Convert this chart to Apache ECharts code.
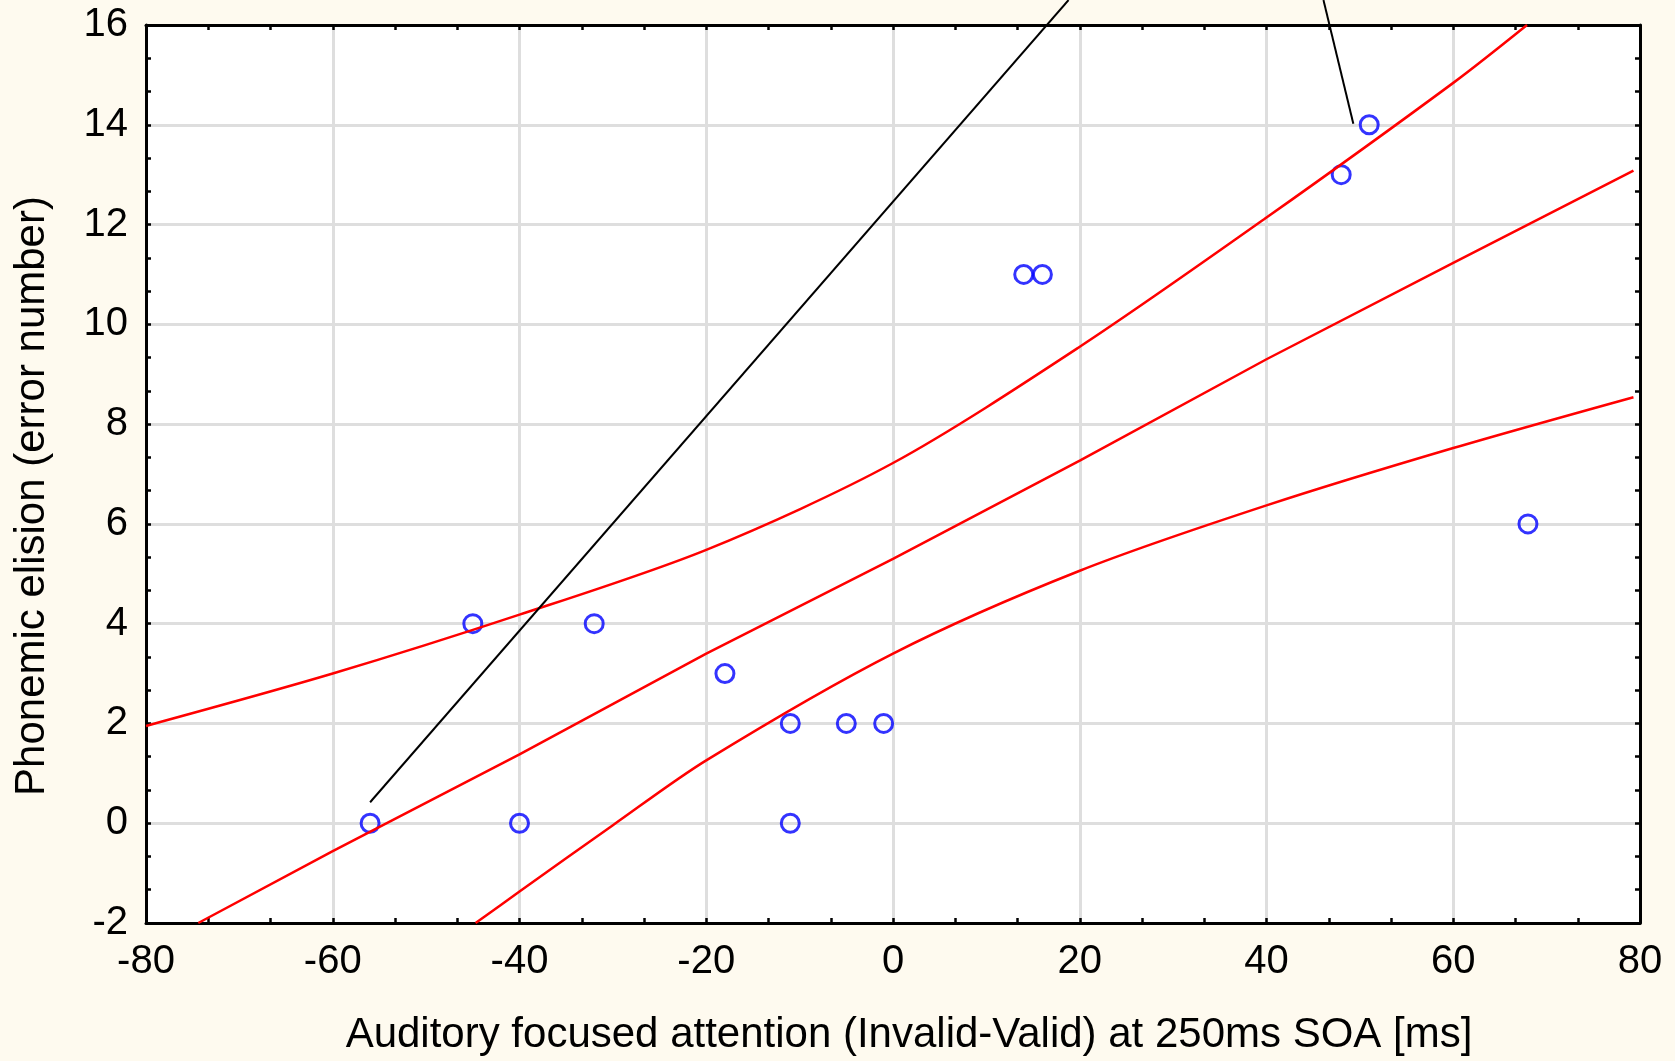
<!DOCTYPE html>
<html>
<head>
<meta charset="utf-8">
<title>Phonemic elision vs auditory focused attention</title>
<script src="https://cdn.jsdelivr.net/npm/echarts@6/dist/echarts.min.js"></script>
<style>
  html, body { margin: 0; padding: 0; background: #fefaef; }
  #chart { width: 1675px; height: 1061px; }
</style>
</head>
<body>
<div id="chart"></div>
<script>
// scatter points
const pointX = [-56, -45, -40, -32, -18, -11, -11, -5, -1, 14, 16, 48, 51, 68]
const pointY = [0, 4, 0, 4, 3, 2, 0, 2, 2, 11, 11, 13, 14, 6]

// fitted line and its confidence band
const fitX = [-74.4, -60, -40, -20, 0, 20, 40, 60, 79.3]
const fitY = [-2, -0.56, 1.38, 3.4, 5.3, 7.27, 9.3, 11.23, 13.08]
const upperX = [-80, -60, -40, -20, 0, 20, 40, 60, 67.9]
const upperY = [1.95, 3.0, 4.18, 5.48, 7.22, 9.55, 12.14, 14.84, 16]
const lowerX = [-44.7, -40, -30, -20, 0, 20, 40, 60, 79.3]
const lowerY = [-2, -1.37, -0.04, 1.26, 3.4, 5.06, 6.37, 7.52, 8.54]

// leader lines (their labels are cut off above the plot)
const leader1X = [-56, 18.8]
const leader1Y = [0.42, 16.5]
const leader2X = [49.3, 46.1]
const leader2Y = [14.02, 16.5]

// axis ranges / ticks
const xRange = [-80, 80]
const xStep = 20
const yRange = [-2, 16]
const yStep = 2
const xTitle = "Auditory focused attention (Invalid-Valid) at 250ms SOA [ms]"
const yTitle = "Phonemic elision (error number)"

const zip = (xs, ys) => xs.map((x, i) => [x, ys[i]])

const font = "'Liberation Sans', Arial, sans-serif"
const axisLine = { show: true, onZero: false, lineStyle: { color: "#000", width: 3 } }
const axisTick = { show: true, inside: true, length: 5, lineStyle: { color: "#000", width: 2.5 } }
const minorTick = { show: true, splitNumber: 3, length: 5, lineStyle: { color: "#000", width: 2.5 } }
const splitLine = { show: true, lineStyle: { color: "#dedede", width: 3 } }

const myChart = echarts.init(document.getElementById("chart"))

const redLine = {
  type: "line",
  symbol: "none",
  lineStyle: { color: "#ff0000", width: 2.5 }
}

const option = {
  backgroundColor: "#fefaef",
  animation: false,
  grid: {
    left: 146,
    right: 35,
    top: 25,
    bottom: 137,
    show: true,
    backgroundColor: "#ffffff",
    borderWidth: 0
  },
  xAxis: [
    {
      type: "value",
      position: "bottom",
      min: xRange[0],
      max: xRange[1],
      interval: xStep,
      axisLine, axisTick, minorTick, splitLine,
      axisLabel: { color: "#000", fontSize: 40, fontFamily: font, margin: 19 },
      name: xTitle,
      nameLocation: "middle",
      nameGap: 91,
      nameTextStyle: { color: "#000", fontSize: 42, fontFamily: font, padding: [0, 0, 0, 32] }
    },
    {
      type: "value",
      position: "top",
      min: xRange[0],
      max: xRange[1],
      interval: xStep,
      axisLine, axisTick, minorTick,
      splitLine: { show: false },
      axisLabel: { show: false }
    }
  ],
  yAxis: [
    {
      type: "value",
      position: "left",
      min: yRange[0],
      max: yRange[1],
      interval: yStep,
      axisLine, axisTick, minorTick, splitLine,
      axisLabel: { color: "#000", fontSize: 40, fontFamily: font, margin: 18 },
      name: yTitle,
      nameLocation: "middle",
      nameGap: 93,
      nameTextStyle: { color: "#000", fontSize: 42, fontFamily: font, padding: [0, 44, 0, 0] }
    },
    {
      type: "value",
      position: "right",
      min: yRange[0],
      max: yRange[1],
      interval: yStep,
      axisLine, axisTick, minorTick,
      splitLine: { show: false },
      axisLabel: { show: false }
    }
  ],
  series: [
    Object.assign({}, redLine, { data: zip(upperX, upperY), smooth: 0.3 }),
    Object.assign({}, redLine, { data: zip(fitX, fitY) }),
    Object.assign({}, redLine, { data: zip(lowerX, lowerY), smooth: 0.3 }),
    {
      type: "line",
      data: zip(leader1X, leader1Y),
      clip: false,
      symbol: "none",
      lineStyle: { color: "#000", width: 2 }
    },
    {
      type: "line",
      data: zip(leader2X, leader2Y),
      clip: false,
      symbol: "none",
      lineStyle: { color: "#000", width: 2 }
    },
    {
      type: "scatter",
      data: zip(pointX, pointY),
      symbol: "circle",
      symbolSize: 18,
      itemStyle: { color: "rgba(0,0,0,0)", borderColor: "#0000ff", borderWidth: 3 }
    }
  ]
}

myChart.setOption(option)
window.addEventListener("resize", () => {
  myChart.resize()
})
</script>
</body>
</html>
